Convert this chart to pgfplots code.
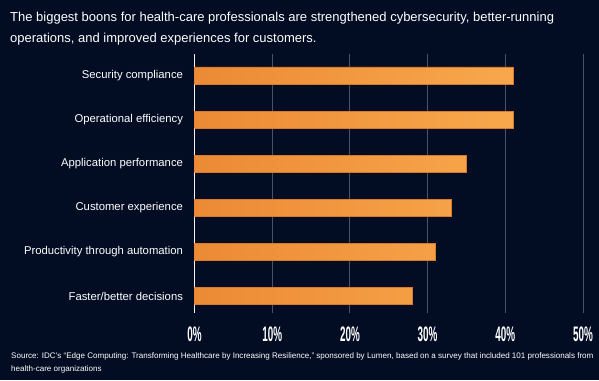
\documentclass[border=0pt]{standalone}
\usepackage{fontspec}
\setmainfont{Liberation Sans}
\newfontfamily\tickfont{Liberation Sans}[FakeStretch=0.47]
\usepackage{pgfplots}
\pgfplotsset{compat=1.18}
\definecolor{bg}{HTML}{020C22}
\definecolor{gridc}{HTML}{4A5264}
\definecolor{barL}{HTML}{EC8A35}
\definecolor{barR}{HTML}{F8A84C}
\definecolor{barE}{HTML}{D9792B}
\begin{document}
\begin{tikzpicture}[x=1pt,y=1pt]
\fill[bg] (0,0) rectangle (599,380);
\useasboundingbox (0,0) rectangle (599,380);
\node[anchor=base west, text=white, font=\fontsize{13}{15}\selectfont, inner sep=0] at (10,358) {The biggest boons for health-care professionals are strengthened cybersecurity, better-running};
\node[anchor=base west, text=white, font=\fontsize{13}{15}\selectfont, inner sep=0] at (10,337) {operations, and improved experiences for customers.};
\node[anchor=base west, text=white, font=\fontsize{8.05}{9}\selectfont, inner sep=0] at (11,22) {Source: IDC's ``Edge Computing: Transforming Healthcare by Increasing Resilience,'' sponsored by Lumen, based on a survey that included 101 professionals from};
\node[anchor=base west, text=white, font=\fontsize{8.05}{9}\selectfont, inner sep=0] at (11,9) {health-care organizations};
\begin{axis}[
  at={(194.5pt,67pt)}, anchor=south west,
  scale only axis, width=388.5pt, height=259pt,
  xbar, bar width=17.3pt,
  xmin=0, xmax=50, ymin=-0.49, ymax=5.385, y dir=reverse,
  ytick={0,1,2,3,4,5},
  yticklabels={Security compliance, Operational efficiency, Application performance, Customer experience, Productivity through automation, Faster/better decisions},
  xtick={10,20,30,40,50},
  xticklabels={10\%,20\%,30\%,40\%,50\%},
  extra x ticks={0}, extra x tick labels={0\%},
  extra x tick style={grid style={draw=white!90!gray, line width=1pt}},
  xmajorgrids, grid style={draw=gridc, line width=0.9pt},
  axis line style={draw=none},
  major tick length=0pt,
  yticklabel style={anchor=east, xshift=-8pt, text=white, font=\fontsize{11.3}{13}\selectfont},
  xticklabel style={anchor=north, yshift=-10pt, text=white, font=\tickfont\bfseries\fontsize{21}{21}\selectfont},
]
\addplot[draw=barE, line width=0.6pt, left color=barL, right color=barR] coordinates {(41,0) (41,1) (35,2) (33,3) (31,4) (28,5)};
\end{axis}
\end{tikzpicture}
\end{document}
